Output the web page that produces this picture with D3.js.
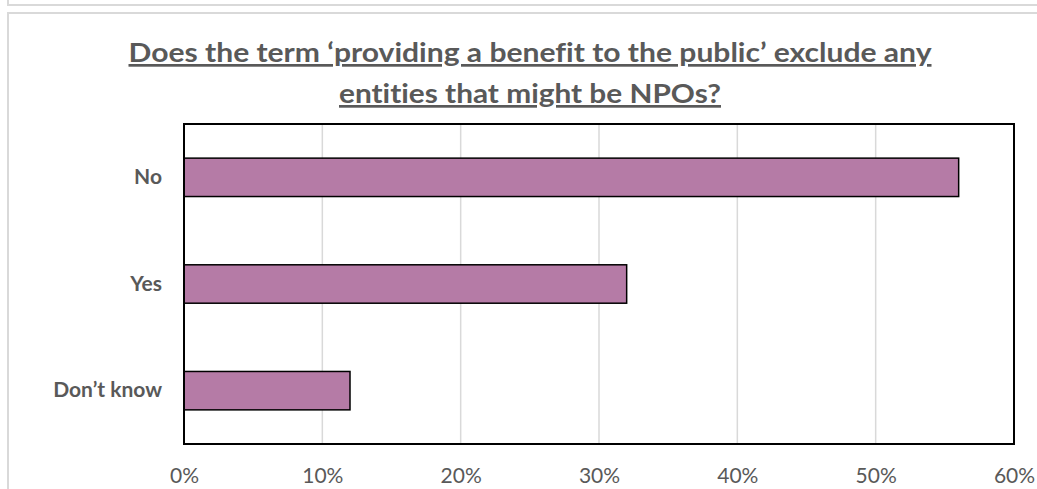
<!DOCTYPE html>
<html>
<head>
<meta charset="utf-8">
<script src="https://cdn.jsdelivr.net/npm/d3@7"></script>
<style>
  body { margin: 0; background: #fff; }
  svg { display: block; }
  text { font-variant-ligatures: none; }
</style>
</head>
<body>
<div id="chart"></div>
<script>
"use strict";

var categories = ["No", "Yes", "Don’t know"];
var values = [0.56, 0.32, 0.12];
var tickValues = [0, 0.1, 0.2, 0.3, 0.4, 0.5, 0.6];
var titleLines = [
    "Does the term ‘providing a benefit to the public’ exclude any",
    "entities that might be NPOs?"
];
var titleWidths = [803, 382];

var width = 1037;
var height = 489;
var margin = { top: 124, right: 23, bottom: 45, left: 184 };
var fontFamily = "Lato, 'Open Sans', sans-serif";

var svg = d3.select("#chart")
    .append("svg")
    .attr("width", width)
    .attr("height", height);

// outer chart frames (light gray)
svg.append("path")
    .attr("d", "M8,0 V5 H1037")
    .attr("fill", "none")
    .attr("stroke", "#d9d9d9")
    .attr("stroke-width", 2);
svg.append("path")
    .attr("d", "M8,489 V13 H1037")
    .attr("fill", "none")
    .attr("stroke", "#d9d9d9")
    .attr("stroke-width", 2);

var x = d3.scaleLinear()
    .domain([0, 0.6])
    .range([margin.left, width - margin.right]);

var y = d3.scaleBand()
    .domain(categories)
    .range([margin.top, height - margin.bottom])
    .paddingInner(0.64)
    .paddingOuter(0.32);

// gridlines
svg.append("g")
    .selectAll("line")
    .data(tickValues.slice(1, -1))
    .enter()
    .append("line")
    .attr("x1", function (d) { return x(d); })
    .attr("x2", function (d) { return x(d); })
    .attr("y1", margin.top)
    .attr("y2", height - margin.bottom)
    .attr("stroke", "#d9d9d9")
    .attr("stroke-width", 1.5);

// bars
svg.append("g")
    .selectAll("rect")
    .data(values)
    .enter()
    .append("rect")
    .attr("x", x(0))
    .attr("y", function (d, i) { return y(categories[i]); })
    .attr("width", function (d) { return x(d) - x(0); })
    .attr("height", y.bandwidth())
    .attr("fill", "#b57ba6")
    .attr("stroke", "#000")
    .attr("stroke-width", 1.5);

// plot frame
svg.append("rect")
    .attr("x", x(0))
    .attr("y", margin.top)
    .attr("width", x(0.6) - x(0))
    .attr("height", height - margin.bottom - margin.top)
    .attr("fill", "none")
    .attr("stroke", "#000")
    .attr("stroke-width", 2);

// x axis
var xAxis = d3.axisBottom(x)
    .tickValues(tickValues)
    .tickFormat(d3.format(".0%"))
    .tickSize(0)
    .tickPadding(24);

var gx = svg.append("g")
    .attr("transform", "translate(0," + (height - margin.bottom) + ")")
    .call(xAxis);
gx.select(".domain").remove();
gx.selectAll("text")
    .attr("font-family", fontFamily)
    .attr("font-size", "21px")
    .attr("fill", "#595959");

// y axis
var yAxis = d3.axisLeft(y)
    .tickSize(0)
    .tickPadding(22);

var gy = svg.append("g")
    .attr("transform", "translate(" + margin.left + ",0)")
    .call(yAxis);
gy.select(".domain").remove();
gy.selectAll("text")
    .attr("font-family", fontFamily)
    .attr("font-size", "21px")
    .attr("font-weight", "bold")
    .attr("fill", "#595959");

// title
svg.append("g")
    .selectAll("text")
    .data(titleLines)
    .enter()
    .append("text")
    .attr("x", 530)
    .attr("y", function (d, i) { return 62 + i * 41; })
    .attr("text-anchor", "middle")
    .attr("textLength", function (d, i) { return titleWidths[i]; })
    .attr("lengthAdjust", "spacingAndGlyphs")
    .attr("font-family", fontFamily)
    .attr("font-size", "27px")
    .attr("font-weight", "bold")
    .attr("fill", "#595959")
    .attr("text-decoration", "underline")
    .text(function (d) { return d; });
</script>
</body>
</html>
